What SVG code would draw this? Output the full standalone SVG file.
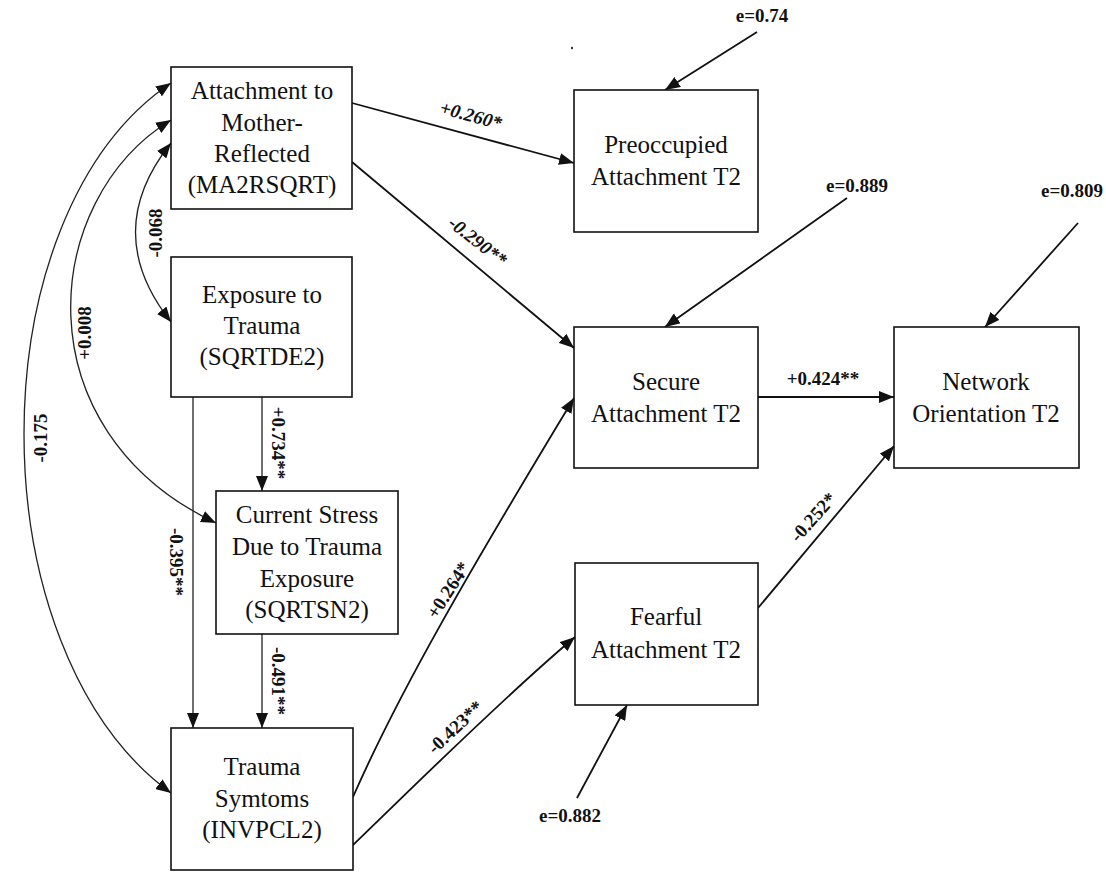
<svg xmlns="http://www.w3.org/2000/svg" width="1106" height="873" viewBox="0 0 1106 873">
<style>
  .box { fill: #ffffff; stroke: #111111; stroke-width: 1.6; }
  .nt { font-family: "Liberation Serif", "Times New Roman", serif; font-size: 25px; fill: #111111; text-anchor: middle; }
  .el { font-family: "Liberation Serif", "Times New Roman", serif; font-size: 19px; font-weight: bold; fill: #111111; text-anchor: middle; }
  .it { font-style: italic; }
  .c { fill: none; stroke: #111111; stroke-width: 1.8; }
  .thin { fill: none; stroke: #222222; stroke-width: 1.3; }
</style>
<defs>
  <marker id="ah" viewBox="0 0 15 12" refX="15" refY="6" markerWidth="15" markerHeight="12" markerUnits="userSpaceOnUse" orient="auto-start-reverse">
    <path d="M0,0 L15,6 L0,12 Z" fill="#111111"/>
  </marker>
</defs>
<rect width="1106" height="873" fill="#ffffff"/>

<g id="connectors">
  <!-- covariances -->
  <path class="thin" d="M171,143 Q100,232 171,322" marker-start="url(#ah)" marker-end="url(#ah)"/>
  <path class="thin" d="M171,120 C40,200 20,430 216,523" marker-start="url(#ah)" marker-end="url(#ah)"/>
  <path class="thin" d="M171,83 C-25,215 -25,650 171,793" marker-start="url(#ah)" marker-end="url(#ah)"/>
  <!-- vertical paths -->
  <line class="thin" x1="193" y1="397" x2="193" y2="728" marker-end="url(#ah)"/>
  <line class="thin" x1="262" y1="397" x2="262" y2="491" marker-end="url(#ah)"/>
  <line class="thin" x1="262" y1="634" x2="262" y2="728" marker-end="url(#ah)"/>
  <!-- structural paths -->
  <line class="c" x1="352" y1="103" x2="574" y2="163" marker-end="url(#ah)"/>
  <line class="c" x1="352" y1="162" x2="574" y2="348" marker-end="url(#ah)"/>
  <path class="c" d="M353,797 C400,690 470,570 574,398" marker-end="url(#ah)"/>
  <path class="c" d="M353,845 C400,800 500,700 575,637" marker-end="url(#ah)"/>
  <line class="c" x1="758" y1="397" x2="894" y2="397" marker-end="url(#ah)"/>
  <line class="c" x1="758" y1="608" x2="894" y2="446" marker-end="url(#ah)"/>
  <!-- error terms -->
  <line class="c" x1="757" y1="32" x2="665" y2="90" marker-end="url(#ah)"/>
  <line class="c" x1="847" y1="198" x2="665" y2="327" marker-end="url(#ah)"/>
  <line class="c" x1="1078" y1="223" x2="985" y2="327" marker-end="url(#ah)"/>
  <line class="c" x1="577" y1="798" x2="627" y2="705" marker-end="url(#ah)"/>

  <!-- connector labels -->
  <text class="el" transform="translate(155,233) rotate(-90)" dy="0.35em">-0.068</text>
  <text class="el" transform="translate(84,333) rotate(-90)" dy="0.35em">+0.008</text>
  <text class="el" transform="translate(40,438) rotate(-90)" dy="0.35em">-0.175</text>
  <text class="el" transform="translate(177,562) rotate(90)" dy="0.35em">-0.395**</text>
  <text class="el" transform="translate(279,443) rotate(90)" dy="0.35em">+0.734**</text>
  <text class="el" transform="translate(279,681) rotate(90)" dy="0.35em">-0.491**</text>
  <text class="el it" transform="translate(471,115) rotate(15)" dy="0.35em">+0.260*</text>
  <text class="el it" transform="translate(478,241) rotate(38)" dy="0.35em">-0.290**</text>
  <text class="el" transform="translate(448,590) rotate(-57)" dy="0.35em">+0.264*</text>
  <text class="el" transform="translate(455,727) rotate(-43)" dy="0.35em">-0.423**</text>
  <text class="el" x="823" y="385">+0.424**</text>
  <text class="el" transform="translate(813,517) rotate(-48)" dy="0.35em">-0.252*</text>
  <text class="el" x="762" y="22">e=0.74</text>
  <text class="el" x="857" y="192">e=0.889</text>
  <text class="el" x="1072" y="197">e=0.809</text>
  <text class="el" x="570" y="822">e=0.882</text>
</g>

<circle cx="572" cy="48" r="1.2" fill="#333333"/>

<g id="n-mother">
  <rect class="box" x="171" y="67" width="181" height="142"/>
  <text class="nt" x="262" y="99">Attachment to</text>
  <text class="nt" x="262" y="131">Mother-</text>
  <text class="nt" x="262" y="162">Reflected</text>
  <text class="nt" x="262" y="193">(MA2RSQRT)</text>
</g>
<g id="n-exposure">
  <rect class="box" x="171" y="257" width="181" height="140"/>
  <text class="nt" x="262" y="303">Exposure to</text>
  <text class="nt" x="262" y="334">Trauma</text>
  <text class="nt" x="262" y="365">(SQRTDE2)</text>
</g>
<g id="n-stress">
  <rect class="box" x="216" y="491" width="182" height="143"/>
  <text class="nt" x="307" y="523">Current Stress</text>
  <text class="nt" x="307" y="555">Due to Trauma</text>
  <text class="nt" x="307" y="587">Exposure</text>
  <text class="nt" x="307" y="618">(SQRTSN2)</text>
</g>
<g id="n-trauma">
  <rect class="box" x="171" y="728" width="182" height="142"/>
  <text class="nt" x="262" y="775">Trauma</text>
  <text class="nt" x="262" y="807">Symtoms</text>
  <text class="nt" x="262" y="838">(INVPCL2)</text>
</g>
<g id="n-preoccupied">
  <rect class="box" x="574" y="90" width="184" height="142"/>
  <text class="nt" x="666" y="153">Preoccupied</text>
  <text class="nt" x="666" y="185">Attachment T2</text>
</g>
<g id="n-secure">
  <rect class="box" x="574" y="327" width="184" height="141"/>
  <text class="nt" x="666" y="390">Secure</text>
  <text class="nt" x="666" y="422">Attachment T2</text>
</g>
<g id="n-fearful">
  <rect class="box" x="575" y="563" width="183" height="142"/>
  <text class="nt" x="666" y="625">Fearful</text>
  <text class="nt" x="666" y="658">Attachment T2</text>
</g>
<g id="n-network">
  <rect class="box" x="894" y="327" width="185" height="141"/>
  <text class="nt" x="986" y="390">Network</text>
  <text class="nt" x="986" y="422">Orientation T2</text>
</g>
</svg>
